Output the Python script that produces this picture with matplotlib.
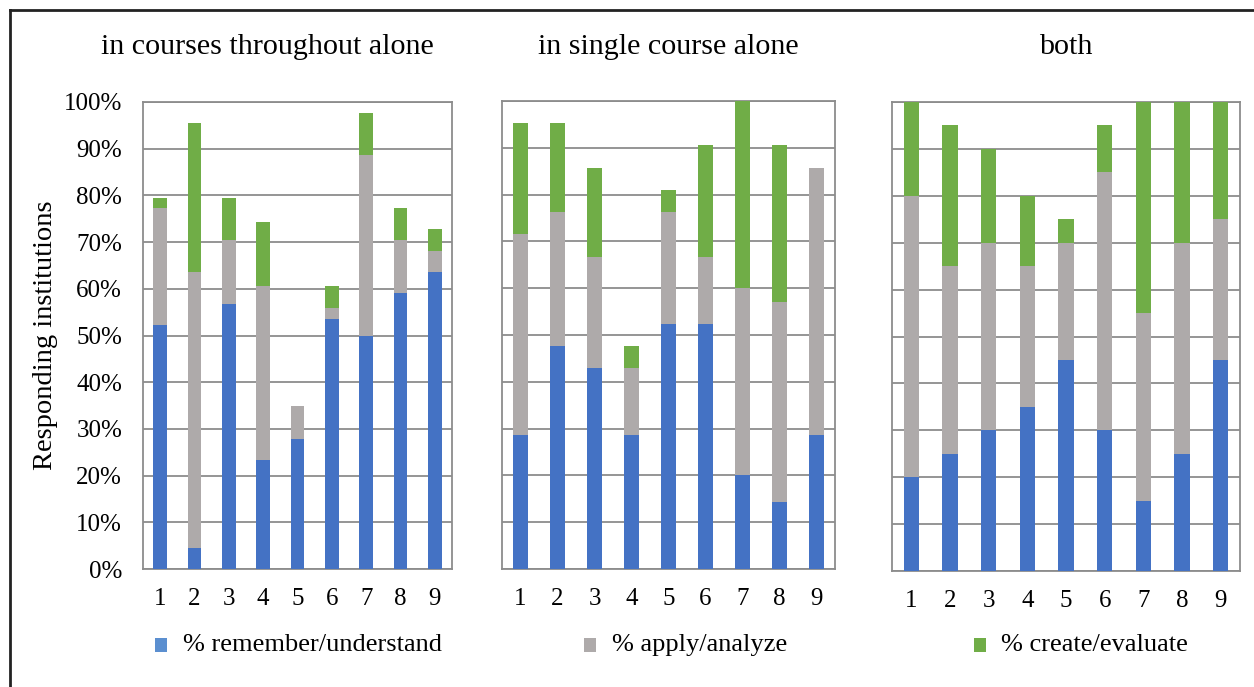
import matplotlib
matplotlib.use("Agg")
import matplotlib.pyplot as plt
from matplotlib.patches import Rectangle
from matplotlib.lines import Line2D
import numpy as np

plt.rcParams['font.family'] = ['Liberation Serif', 'DejaVu Serif']

categories = ['1', '2', '3', '4', '5', '6', '7', '8', '9']
titles = ['in courses throughout alone', 'in single course alone', 'both']
series_names = ['% remember/understand', '% apply/analyze', '% create/evaluate']
colors = ['#4472C4', '#AEAAAA', '#70AD47']
legend_colors = ['#5B8FD0', '#AEAAAA', '#70AD47']

# segment values (%), per panel
throughout_remember = [52.3, 4.5, 56.8, 23.3, 27.9, 53.5, 50.0, 59.1, 63.6]
throughout_apply = [25.0, 59.1, 13.7, 37.2, 7.0, 2.3, 38.6, 11.4, 4.6]
throughout_create = [2.2, 31.9, 9.0, 13.9, 0.0, 4.7, 9.1, 6.8, 4.5]

single_remember = [28.6, 47.6, 42.9, 28.6, 52.4, 52.4, 20.0, 14.3, 28.6]
single_apply = [42.9, 28.6, 23.8, 14.3, 23.8, 14.3, 40.0, 42.8, 57.1]
single_create = [23.7, 19.0, 19.0, 4.7, 4.8, 23.8, 40.0, 33.4, 0.0]

both_remember = [20, 25, 30, 35, 45, 30, 15, 25, 45]
both_apply = [60, 40, 40, 30, 25, 55, 40, 45, 30]
both_create = [20, 30, 20, 15, 5, 10, 45, 30, 25]

panels = [
    (throughout_remember, throughout_apply, throughout_create),
    (single_remember, single_apply, single_create),
    (both_remember, both_apply, both_create),
]

W, H = 1254, 687
fig = plt.figure(figsize=(W / 100, H / 100), dpi=100)

def fbox(x0, y0, x1, y1):
    return [x0 / W, 1 - y1 / H, (x1 - x0) / W, (y1 - y0) / H]

axes_px = [(143, 102, 452, 569), (502, 101, 835, 569), (892, 102, 1240, 571)]
title_cx = [267, 668, 1066]

x = np.arange(len(categories))
for i, (ax_px, data, title) in enumerate(zip(axes_px, panels, titles)):
    ax = fig.add_axes(fbox(*ax_px))
    bottom = np.zeros(len(categories))
    for vals, c in zip(data, colors):
        vals = np.array(vals, dtype=float)
        ax.bar(x, vals, width=0.4, bottom=bottom, color=c, zorder=3, linewidth=0)
        bottom += vals
    ax.set_xlim(-0.5, len(categories) - 0.5)
    ax.set_ylim(0, 100)
    ax.set_yticks(np.arange(0, 101, 10))
    ax.yaxis.grid(True, color='#8c8c8c', linewidth=1.3, zorder=0)
    ax.set_xticks(x)
    ax.set_xticklabels(categories, fontsize=18)
    ax.tick_params(axis='x', length=0, pad=14)
    ax.tick_params(axis='y', length=0)
    for s in ax.spines.values():
        s.set_color('#8c8c8c')
        s.set_linewidth(1.3)
    if i == 0:
        ax.set_yticklabels([f'{v}%' for v in range(0, 101, 10)], fontsize=18)
        ax.tick_params(axis='y', pad=15)
        ax.set_ylabel('Responding institutions', fontsize=20.5, labelpad=4)
    else:
        ax.set_yticklabels([])
    fig.text(title_cx[i] / W, 1 - 54 / H, title, fontsize=21.6, ha='center', va='baseline')

# legend
patch_px = [(155, 638), (584, 638), (974, 638)]
text_px = [183, 612, 1001]
for (px, py), tx, name, c in zip(patch_px, text_px, series_names, legend_colors):
    fig.add_artist(Rectangle((px / W, 1 - (py + 14) / H), 12 / W, 14 / H,
                             facecolor=c, edgecolor='none', transform=fig.transFigure))
    fig.text(tx / W, 1 - 645 / H, name, fontsize=19, ha='left', va='center')

# outer frame
fig.add_artist(Line2D([10 / W, 10 / W], [0, 1 - 10 / H], color='#222222', linewidth=2))
fig.add_artist(Line2D([10 / W, 1], [1 - 10 / H, 1 - 10 / H], color='#222222', linewidth=2))

fig.savefig('out.png', dpi=100, facecolor='white')
